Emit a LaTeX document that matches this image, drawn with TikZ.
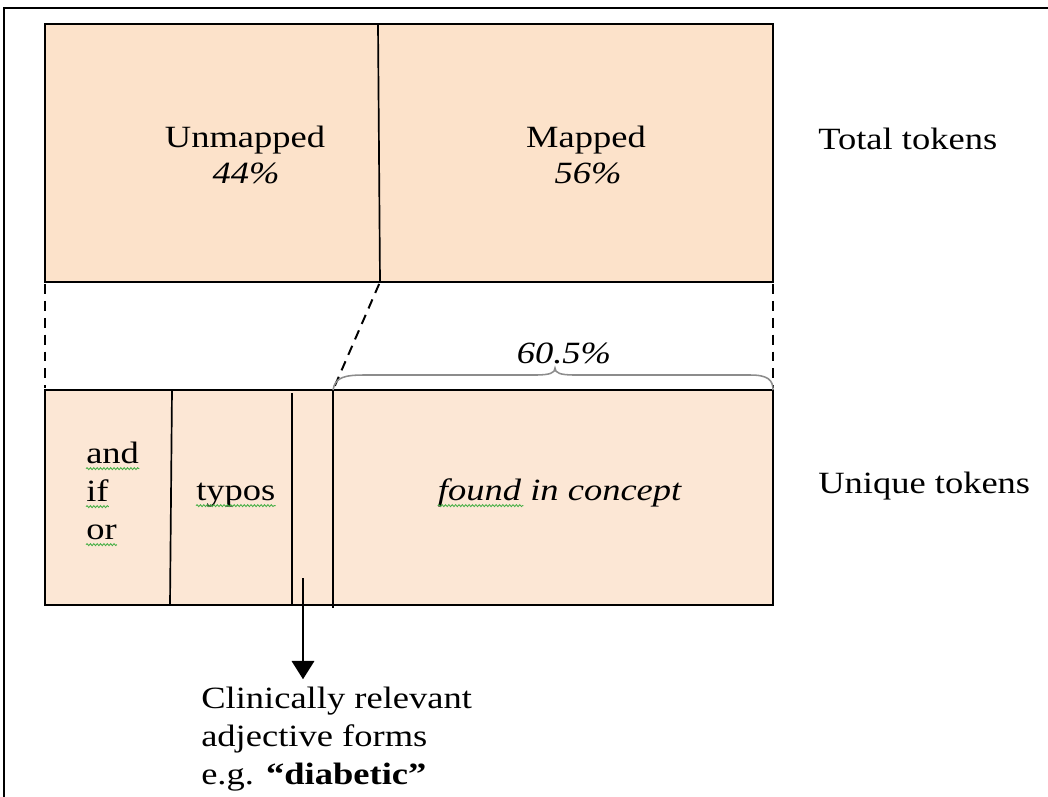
\documentclass[tikz,border=0pt]{standalone}
\usepackage{fontspec}
\setmainfont[FakeStretch=1.18]{Liberation Serif}
\usepackage{xcolor}
\usepackage{tikz}
\usetikzlibrary{arrows.meta, calc, decorations.pathmorphing}
\definecolor{peachtop}{RGB}{252,226,202}
\definecolor{peachlow}{RGB}{252,231,213}
\definecolor{wavegreen}{RGB}{70,175,70}
\definecolor{bracegray}{RGB}{140,140,140}

\begin{document}
\begin{tikzpicture}[x=0.025cm, y=-0.025cm,
    every node/.style={font=\fontsize{22}{27}\selectfont, inner sep=0pt},
    outline/.style={draw, line width=1.5pt},
    divline/.style={line width=1.2pt},
    link/.style={line width=1.4pt, dash pattern=on 7pt off 5pt, shorten <=1.5pt, shorten >=1.5pt},
    brc/.style={bracegray, line width=1.1pt},
    squig/.style={wavegreen, line width=0.6pt, decorate, decoration={snake, amplitude=0.7pt, segment length=2.4pt}},
    arr/.style={-{Triangle[length=13pt, width=16pt]}, line width=1.4pt}]
  \useasboundingbox (0,0) rectangle (1048,797);
  % frame, only top and left edge show
  \draw[line width=1.2pt] (1048,8) -- (4,8) -- (4,797);

  % total tokens bar
  \fill[peachtop] (45,24) rectangle (773,282);
  \draw[divline] (378,24) -- (380,282);
  \draw[outline] (45,24) rectangle (773,282);
  \coordinate (tsw) at (45,282);
  \coordinate (tmid) at (380,282);
  \coordinate (tse) at (773,282);

  \node[anchor=base] (unm) at (245,147) {Unmapped};
  \node[anchor=base] (unmp) at (246,183) {\textit{44\%}};
  \node[anchor=base] (map) at (586,147) {Mapped};
  \node[anchor=base] (mapp) at (588,183) {\textit{56\%}};
  \node[anchor=base west] (total) at (818,149) {Total tokens};

  % unique tokens bar
  \fill[peachlow] (45,390) rectangle (773,605);
  \draw[divline] (172,390) -- (170,605);
  \draw[divline] (292,393) -- (292,605);
  \draw[divline] (333,390) -- (333,608);
  \draw[outline] (45,390) rectangle (773,605);
  \coordinate (bnw) at (45,390);
  \coordinate (bmid) at (333,390);
  \coordinate (bne) at (773,390);

  \node[anchor=base west] (w1) at (86,463) {and};
  \node[anchor=base west] (w2) at (86,501) {if};
  \node[anchor=base west] (w3) at (86,539) {or};
  \node[anchor=base west] (typ) at (196,500) {typos};
  \node[anchor=base] (fic) at (560,500) {\textit{found in concept}};
  \node[anchor=base west] (uniq) at (818,493) {Unique tokens};

  % spell-check waves
  \foreach \w in {w1,w2,w3,typ} {
    \draw[squig] ([yshift=-4pt]\w.base west) -- ([yshift=-4pt]\w.base east);
  }
  \draw[squig] ([yshift=-4pt]fic.base west) -- ([yshift=-4pt]$(fic.base west)!0.35!(fic.base east)$);

  % dashed guides between the bars
  \draw[link] (tsw) -- (bnw);
  \draw[link] (tmid) -- (bmid);
  \draw[link] (tse) -- (bne);

  % brace over the mapped part
  \coordinate (btip) at (555,368);
  \draw[brc] (bmid) .. controls (335,377) and (345,375) .. (365,375)
     -- (535,375) .. controls (550,375) and (555,373) .. (btip)
     .. controls (555,373) and (560,375) .. (575,375)
     -- (750,375) .. controls (768,375) and (773,380) .. (bne);
  \node[anchor=base] (pct) at (564,363) {\textit{60.5\%}};

  % note below
  \node[anchor=base west] (cl1) at (201,708) {Clinically relevant};
  \node[anchor=base west] (cl2) at (201,746) {adjective forms};
  \node[anchor=base west] (cl3) at (201,784) {e.g. \textbf{“diabetic”}};
  \coordinate (adjsrc) at (303,578);
  \draw[arr, shorten >=5pt] (adjsrc) -- (adjsrc |- cl1.north);
\end{tikzpicture}
\end{document}
